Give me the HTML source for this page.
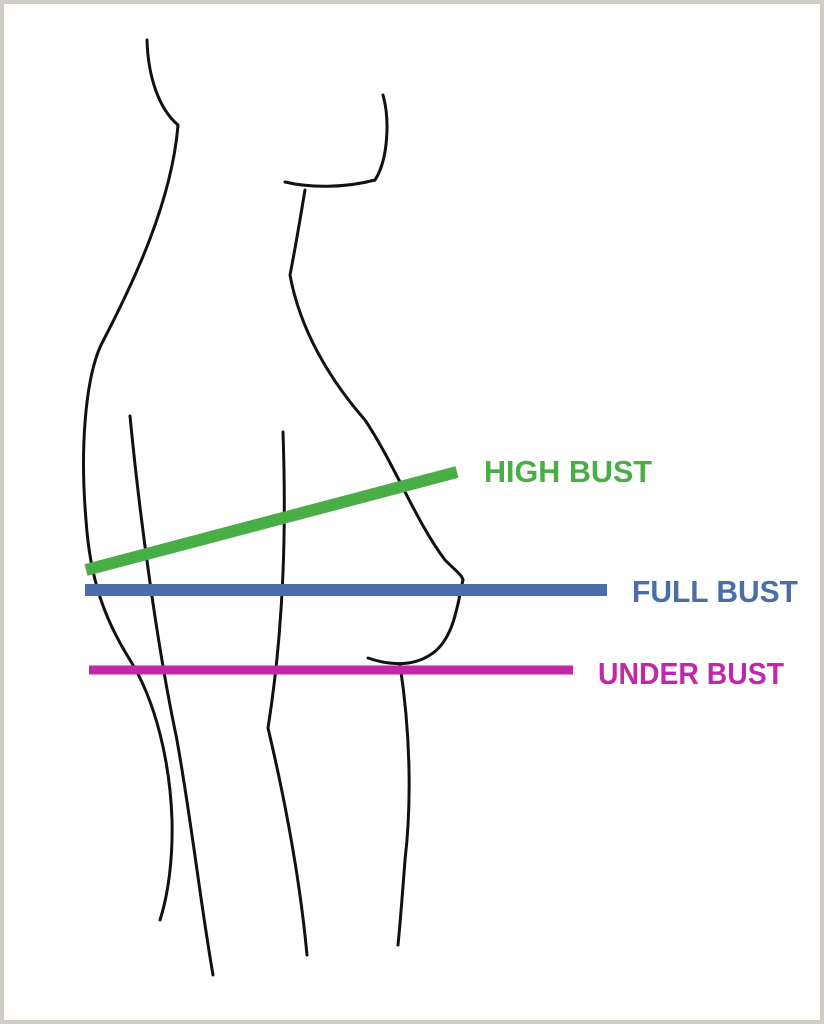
<!DOCTYPE html>
<html><head><meta charset="utf-8"><style>
html,body{margin:0;padding:0;background:#fff}
svg{display:block}
</style></head><body>
<svg width="824" height="1024" viewBox="0 0 824 1024" xmlns="http://www.w3.org/2000/svg">
<rect x="0" y="0" width="824" height="1024" fill="#fff"/>
<rect x="2" y="2" width="820" height="1020" fill="none" stroke="#d2ccc6" stroke-width="4"/>
<g fill="none" stroke="#111" stroke-width="3" stroke-linecap="round" stroke-linejoin="round">
<path d="M147,40 C148,75 158,108 178,125 C172,200 135,280 101,345 C85,380 80,450 86,520 C90,580 105,620 130,660 C155,700 170,760 172,820 C173,860 168,895 160,920"/>
<path d="M130,416 C140,520 158,650 176,735 C190,810 200,900 213,975"/>
<path d="M283,432 C286,520 285,620 268,728 C285,800 300,880 307,955"/>
<path d="M383,95 C390,120 388,160 375,180 C345,188 310,188 285,182"/>
<path d="M305,190 C300,220 295,250 290,275 C300,330 330,380 365,420 C395,465 415,520 445,560 C455,570 462,575 463,580"/>
<path d="M463,580 C458,600 455,640 430,655 C410,668 385,664 368,658"/>
<path d="M400,665 C410,730 412,800 405,860 C402,900 400,925 398,945"/>
</g>
<line x1="86" y1="570" x2="457" y2="472" stroke="#4aae46" stroke-width="12"/>
<line x1="85" y1="590" x2="607" y2="590" stroke="#4a6ea8" stroke-width="12"/>
<line x1="89" y1="670" x2="573" y2="670" stroke="#c128a9" stroke-width="9"/>
<g font-family="Liberation Sans, sans-serif" font-weight="bold" font-size="31">
<text x="484" y="482" fill="#4aae46" textLength="168" lengthAdjust="spacingAndGlyphs">HIGH BUST</text>
<text x="632" y="602" fill="#4a6ea8" textLength="166" lengthAdjust="spacingAndGlyphs">FULL BUST</text>
<text x="598" y="684" fill="#c128a9" textLength="186" lengthAdjust="spacingAndGlyphs">UNDER BUST</text>
</g>
</svg>
</body></html>
